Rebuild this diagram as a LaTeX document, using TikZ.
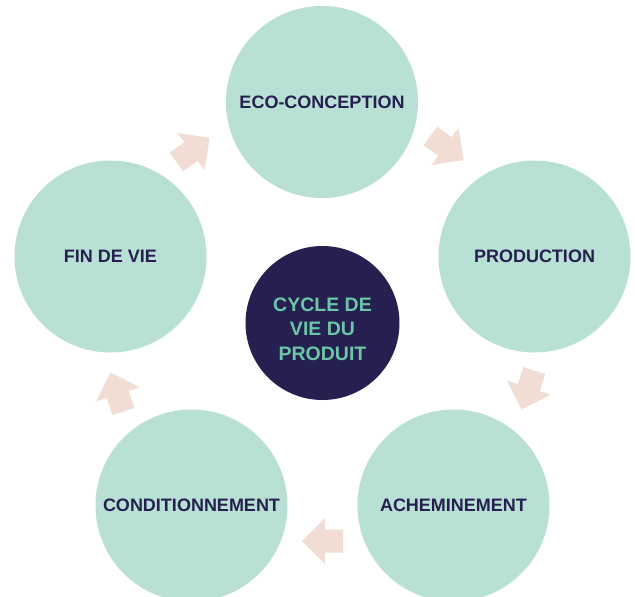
\documentclass[tikz,border=0pt]{standalone}
\usepackage{fontspec}
\setmainfont{Liberation Sans}
\definecolor{mint}{HTML}{B9E0D5}
\definecolor{pinkarrow}{HTML}{F2DDD5}
\definecolor{navy}{HTML}{25204F}
\definecolor{tealtext}{HTML}{6CC5A8}
\tikzset{
  stage/.style={circle, fill=mint, minimum size=192pt, inner sep=0pt, text=navy, font=\bfseries\fontsize{18}{22}\selectfont},
  hub/.style={circle, fill=navy, minimum size=154pt, inner sep=0pt},
  hubtext/.style={text=tealtext, align=center, font=\bfseries\fontsize{19.5}{24.5}\selectfont},
  arrowfill/.style={fill=pinkarrow}
}
\newcommand{\blockarrow}[3]{%
  \begin{scope}[shift={(#1,#2)}, rotate=#3]
    \fill[arrowfill] (20.5,0) -- (-2.5,23) -- (-2.5,11.5) -- (-20.5,11.5) -- (-20.5,-11.5) -- (-2.5,-11.5) -- (-2.5,-23) -- cycle;
  \end{scope}}
\begin{document}
\begin{tikzpicture}[x=1pt,y=-1pt]
\useasboundingbox (0,0) rectangle (635,597);
\clip (0,0) rectangle (635,597);
\fill[white] (0,0) rectangle (635,597);
\node[stage] (eco) at (322,102) {ECO-CONCEPTION};
\node[stage] (prod) at (534.5,256.5) {PRODUCTION};
\node[stage] (ach) at (453.5,505.5) {ACHEMINEMENT};
\node[stage] (cond) at (191.5,505.5) {CONDITIONNEMENT};
\node[stage] (fin) at (110.5,256.5) {FIN DE VIE};
\node[hub] (hub) at (322.5,323) {};
\node[hubtext] (hubt) at (322.5,329) {CYCLE DE\\VIE DU\\PRODUIT};
\blockarrow{193}{150}{36}
\blockarrow{447}{148}{-36}
\blockarrow{528}{390}{-108}
\blockarrow{322.5}{541}{180}
\blockarrow{117}{392}{108}
\end{tikzpicture}
\end{document}
